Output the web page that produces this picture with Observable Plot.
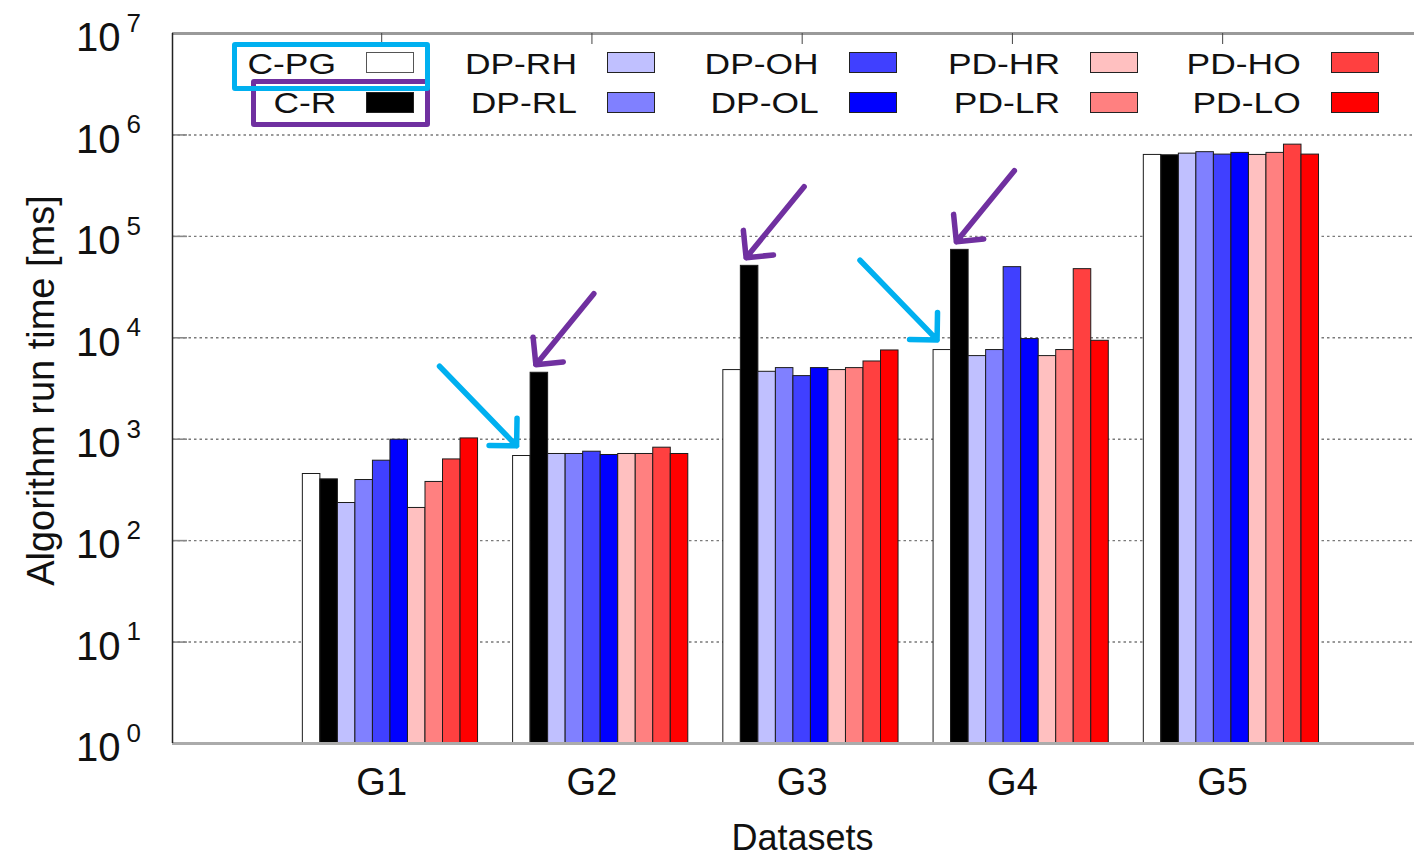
<!DOCTYPE html>
<html><head><meta charset="utf-8">
<script src="https://cdn.jsdelivr.net/npm/d3@7"></script>
<script src="https://cdn.jsdelivr.net/npm/@observablehq/plot@0.6"></script>
<style>
html,body{margin:0;padding:0;background:#fff;overflow:hidden}
#chart{position:relative;width:1414px;height:856px;font-family:"Liberation Sans",Arial,sans-serif}
#chart svg{position:absolute;left:0;top:0}
.lg-label{position:absolute;font-size:30px;line-height:30px;color:#111;white-space:nowrap;transform:scaleX(1.18);transform-origin:right center;text-align:right}
.lg-swatch{position:absolute;width:48px;height:21px;box-sizing:border-box;border:1.5px solid #222}
.lg-box{position:absolute;box-sizing:border-box;border:5px solid;border-radius:3px}
</style></head><body><div id="chart"></div>
<script>
// ---------- data ----------
const groups = ["G1", "G2", "G3", "G4", "G5"];
const series = ["C-PG", "C-R", "DP-RH", "DP-RL", "DP-OH", "DP-OL", "PD-HR", "PD-LR", "PD-HO", "PD-LO"];
const seriesColors = ["#ffffff", "#000000", "#c0c0ff", "#8080ff", "#4040ff", "#0000ff", "#ffc0c0", "#ff8080", "#ff4040", "#ff0000"];
const cPG  = [454, 683, 4805, 7570, 635000];
const cR   = [402, 4520, 51200, 73600, 630000];
const dpRH = [235, 715, 4620, 6600, 654000];
const dpRL = [396, 715, 5025, 7570, 676000];
const dpOH = [614, 753, 4190, 49700, 640000];
const dpOL = [989, 699, 5025, 9710, 665000];
const pdHR = [210, 715, 4805, 6600, 635000];
const pdLR = [379, 715, 5025, 7570, 665000];
const pdHO = [632, 825, 5840, 47500, 802000];
const pdLO = [1018, 715, 7500, 9340, 640000];
const yTickExponents = [0, 1, 2, 3, 4, 5, 6, 7];
const gridExponents = [1, 2, 3, 4, 5, 6];
const highlights = [
  {group: "G2", series: "C-PG", kind: "cyan"},
  {group: "G2", series: "C-R", kind: "purple"},
  {group: "G3", series: "C-R", kind: "purple"},
  {group: "G4", series: "C-PG", kind: "cyan"},
  {group: "G4", series: "C-R", kind: "purple"}
];
const xTitle = "Datasets";
const yTitle = "Algorithm run time [ms]";

// ---------- build ----------
const valuesBySeries = {"C-PG": cPG, "C-R": cR, "DP-RH": dpRH, "DP-RL": dpRL, "DP-OH": dpOH,
  "DP-OL": dpOL, "PD-HR": pdHR, "PD-LR": pdLR, "PD-HO": pdHO, "PD-LO": pdLO};
const groupSpan = series.length + 2; // bars + gap
const data = groups.flatMap((g, gi) => series.map((s, si) => ({group: g, gi, series: s, si, value: valuesBySeries[s][gi]})));
const barLeft = (gi, si) => gi * groupSpan + si;
const labelPos = groups.map((g, gi) => gi * groupSpan + 4.5);

const W = 1414, H = 856, mL = 172, mT = 33, mB = 113;
const xMin = -7.44, xMax = 63.45;
const unitPx = (W - mL) / (xMax - xMin);
const decadePx = (H - mT - mB) / 7;

const arrowStyle = {
  cyan: {color: "#00b0f0", tipDx: 0.2, tipDlog: 0.1, tailDx: -4.4, tailDlog: 0.785},
  purple: {color: "#7030a0", tipDx: 0.3, tipDlog: 0.08, tailDx: 3.31, tailDlog: 0.70}
};
const arrows = highlights.map(h => {
  const gi = groups.indexOf(h.group), si = series.indexOf(h.series);
  const st = arrowStyle[h.kind];
  const v = valuesBySeries[h.series][gi];
  const tx = barLeft(gi, si) + st.tipDx, ty = v * 10 ** st.tipDlog;
  return {kind: h.kind, x2: tx, y2: ty, x1: tx + st.tailDx, y1: ty * 10 ** st.tailDlog};
});

const font = "Liberation Sans, Arial, Helvetica, sans-serif";
const chart = Plot.plot({
  width: W, height: H,
  marginLeft: mL, marginRight: 0, marginTop: mT, marginBottom: mB,
  style: {fontFamily: font, background: "white", overflow: "visible", color: "#111"},
  x: {type: "linear", domain: [xMin, xMax], axis: null},
  y: {type: "log", domain: [1, 1e7], axis: null},
  color: {domain: series, range: seriesColors},
  marks: [
    // grid
    Plot.ruleY(gridExponents.map(e => 10 ** e), {stroke: "#7a7a7a", strokeWidth: 1.4, strokeDasharray: "2.5,3"}),
    Plot.ruleY(gridExponents.map(e => 10 ** e), {x1: xMin, x2: xMin + 15 / unitPx, stroke: "#888", strokeWidth: 1.6}),
    // bars
    Plot.rect(data, {
      x1: d => barLeft(d.gi, d.si), x2: d => barLeft(d.gi, d.si) + 1,
      y1: 1, y2: "value", fill: "series", stroke: "#1c1c1c", strokeWidth: 1
    }),
    // frame
    Plot.ruleY([1e7], {stroke: "#9a9a9a", strokeWidth: 3}),
    Plot.ruleY([1], {stroke: "#ababab", strokeWidth: 3}),
    Plot.ruleX([xMin], {y1: 1, y2: 1e7, stroke: "#222", strokeWidth: 1.5}),
    Plot.ruleX(labelPos, {y1: 1e7, y2: 1e7 / 10 ** (11 / decadePx), stroke: "#444", strokeWidth: 1}),
    // y tick labels
    Plot.text(yTickExponents, {y: e => 10 ** e, text: () => "10", frameAnchor: "left", textAnchor: "end", dx: -52, dy: 5, fontSize: 40, fill: "#111"}),
    Plot.text(yTickExponents, {y: e => 10 ** e, text: e => String(e), frameAnchor: "left", textAnchor: "start", dx: -46, dy: -10, fontSize: 26, fill: "#111"}),
    // x tick labels
    Plot.text(groups, {x: (g, i) => labelPos[i], text: g => g, frameAnchor: "bottom", lineAnchor: "top", dy: 25, fontSize: 38, fill: "#111"}),
    // axis titles
    Plot.text([xTitle], {frameAnchor: "bottom", textAnchor: "middle", dx: 9, dy: 106, fontSize: 36, fill: "#111", ariaLabel: "xtitle"}),
    Plot.text([yTitle], {frameAnchor: "left", textAnchor: "middle", rotate: -90, dx: -131, dy: 2, fontSize: 38, fill: "#111"}),
    // annotation arrows
    Plot.arrow(arrows.filter(a => a.kind === "cyan"), {x1: "x1", y1: "y1", x2: "x2", y2: "y2", stroke: arrowStyle.cyan.color, strokeWidth: 5.5, headLength: 7.5, headAngle: 90}),
    Plot.arrow(arrows.filter(a => a.kind === "purple"), {x1: "x1", y1: "y1", x2: "x2", y2: "y2", stroke: arrowStyle.purple.color, strokeWidth: 5.5, headLength: 7.5, headAngle: 90})
  ]
});

const root = document.getElementById("chart");
root.appendChild(chart);
const xt = chart.querySelector('g[aria-label="xtitle"] text');
if (xt) { xt.setAttribute("textLength", 178); xt.setAttribute("lengthAdjust", "spacingAndGlyphs"); }

// ---------- legend (HTML overlay, inside plot area) ----------
const rowSwatchTop = [52, 92], rowTextCenter = [63.5, 102.5];
series.forEach((s, i) => {
  const col = Math.floor(i / 2), row = i % 2;
  const swLeft = 366 + col * 241.25;
  const lab = document.createElement("div");
  lab.className = "lg-label";
  lab.textContent = s;
  lab.style.right = (W - (swLeft - 30)) + "px";
  lab.style.top = (rowTextCenter[row] - 15) + "px";
  root.appendChild(lab);
  const sw = document.createElement("div");
  sw.className = "lg-swatch";
  sw.style.left = swLeft + "px";
  sw.style.top = rowSwatchTop[row] + "px";
  sw.style.background = seriesColors[i];
  if (s === "C-PG") sw.style.borderColor = "#555";
  root.appendChild(sw);
});
// highlight boxes around C-PG and C-R legend entries
[["#7030a0", 251, 79, 179, 48], ["#00b0f0", 232, 42, 198, 49]].forEach(([c, l, t, w, h]) => {
  const b = document.createElement("div");
  b.className = "lg-box";
  Object.assign(b.style, {borderColor: c, left: l + "px", top: t + "px", width: w + "px", height: h + "px"});
  root.appendChild(b);
});
</script></body></html>
